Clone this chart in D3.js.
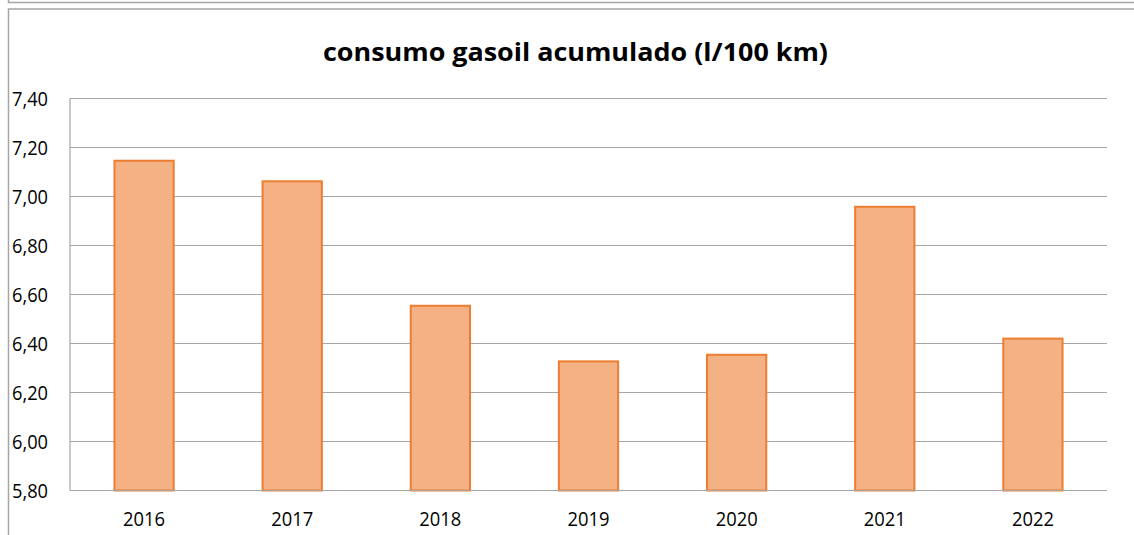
<!DOCTYPE html>
<html><head><meta charset="utf-8">
<script src="https://cdn.jsdelivr.net/npm/d3@7"></script>
<style>html,body{margin:0;padding:0;background:#fff;overflow:hidden}</style>
</head><body>
<svg id="c" width="1134" height="535"></svg>
<script>
const title = "consumo gasoil acumulado (l/100 km)";
const years = ["2016","2017","2018","2019","2020","2021","2022"];
const values = [7.146, 7.062, 6.554, 6.327, 6.354, 6.958, 6.420];
const yTicks = [5.8, 6.0, 6.2, 6.4, 6.6, 6.8, 7.0, 7.2, 7.4];

const svg = d3.select("#c");
const L = 70, R = 1107, T = 98.5, B = 490.5;
const font = "'Open Sans', 'DejaVu Sans', sans-serif";

// outer frames
svg.append("path").attr("d", "M8.5,0 V2.5 H1134").attr("fill","none").attr("stroke","#a6a6a6").attr("stroke-width",1.5);
svg.append("path").attr("d", "M8.5,535 V9 H1134").attr("fill","none").attr("stroke","#a6a6a6").attr("stroke-width",1.5);

const x = d3.scaleBand().domain(years).range([L, R]).paddingInner(0.6).paddingOuter(0.3);
const y = d3.scaleLinear().domain([5.8, 7.4]).range([B, T]);

// gridlines
svg.append("g").selectAll("line").data(yTicks).join("line")
  .attr("x1", L).attr("x2", R)
  .attr("y1", d => y(d)).attr("y2", d => y(d))
  .attr("stroke", "#a6a6a6").attr("stroke-width", 1.2);

// y axis line
svg.append("line").attr("x1", L).attr("x2", L).attr("y1", T).attr("y2", B)
  .attr("stroke", "#a6a6a6").attr("stroke-width", 1.2);

// y labels
svg.append("g").selectAll("text").data(yTicks).join("text")
  .attr("x", 48).attr("y", d => y(d)).attr("dy", "0.36em")
  .attr("text-anchor", "end")
  .attr("font-family", font).attr("font-size", 20).attr("fill", "#000")
  .attr("textLength", 36).attr("lengthAdjust", "spacingAndGlyphs")
  .text(d => d3.format(".2f")(d).replace(".", ","));

// bars
svg.append("g").selectAll("rect").data(years.map((k,i)=>({k, v: values[i]}))).join("rect")
  .attr("x", d => x(d.k)).attr("width", x.bandwidth())
  .attr("y", d => y(d.v)).attr("height", d => B - y(d.v))
  .attr("fill", "#f4b183").attr("stroke", "#ed7d31").attr("stroke-width", 2);

// x axis line
svg.append("line").attr("x1", L).attr("x2", R).attr("y1", B).attr("y2", B)
  .attr("stroke", "#a6a6a6").attr("stroke-width", 1.2);

// x labels
svg.append("g").selectAll("text").data(years).join("text")
  .attr("x", d => x(d) + x.bandwidth()/2).attr("y", 526)
  .attr("text-anchor", "middle")
  .attr("font-family", font).attr("font-size", 20).attr("fill", "#000")
  .attr("textLength", 42).attr("lengthAdjust", "spacingAndGlyphs")
  .text(d => d);

// title
svg.append("text").attr("x", 575.5).attr("y", 61).attr("text-anchor", "middle")
  .attr("font-family", font).attr("font-weight", "bold").attr("font-size", 25).attr("fill", "#000")
  .attr("textLength", 505).attr("lengthAdjust", "spacingAndGlyphs")
  .text(title);
</script>
</body></html>
